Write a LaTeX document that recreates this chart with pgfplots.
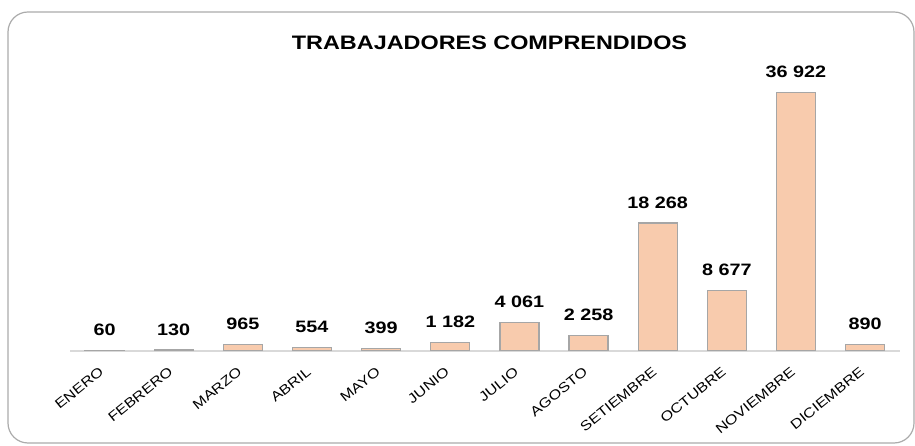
\documentclass[border=0pt]{standalone}
\usepackage{fontspec}
\setmainfont{Liberation Sans}[FakeStretch=1.2]
\usepackage{pgfplots}
\pgfplotsset{compat=1.18}
\definecolor{barfill}{HTML}{F8CBAD}
\definecolor{barline}{HTML}{A6A6A6}
\definecolor{axisline}{HTML}{D9D9D9}
\definecolor{framecol}{HTML}{ABABAB}
\begin{document}
\begin{tikzpicture}[x=1pt,y=1pt]
\useasboundingbox (-70,-95) rectangle (845,351);
\draw[framecol, line width=1.2pt, rounded corners=20pt] (-62,-92) rectangle (844,339);
\node[font=\fontsize{19.5}{22}\selectfont\bfseries, inner sep=0pt] at (419.5,308) {TRABAJADORES COMPRENDIDOS};
\begin{axis}[
  at={(0,0)}, anchor=south west,
  scale only axis, width=829.7pt, height=280.3pt,
  xmin=-0.5, xmax=11.5, ymin=0, ymax=40000,
  axis x line=bottom, axis y line=none,
  x axis line style={-, draw=axisline, line width=1.2pt},
  xtick={0,...,11},
  xticklabels={ENERO,FEBRERO,MARZO,ABRIL,MAYO,JUNIO,JULIO,AGOSTO,SETIEMBRE,OCTUBRE,NOVIEMBRE,DICIEMBRE},
  major tick length=0pt,
  xticklabel style={font=\fontsize{13.5}{15}\selectfont, inner sep=0pt, anchor=north east, xshift=-6pt, yshift=-15pt, rotate=39},
  ytick=\empty,
  ybar, bar width=39pt,
  nodes near coords={\pgfmathprintnumber{\pgfplotspointmeta}},
  every node near coord/.append style={font=\fontsize{16.5}{18}\selectfont\bfseries, anchor=south, inner sep=0pt, yshift=14pt, black},
  /pgf/number format/.cd, 1000 sep={\ }, assume math mode=true,
  ]
\addplot[fill=barfill, draw=barline, line width=1.2pt] coordinates {
 (0,60) (1,130) (2,965) (3,554) (4,399) (5,1182) (6,4061) (7,2258) (8,18268) (9,8677) (10,36922) (11,890)
};
\end{axis}
\end{tikzpicture}
\end{document}
